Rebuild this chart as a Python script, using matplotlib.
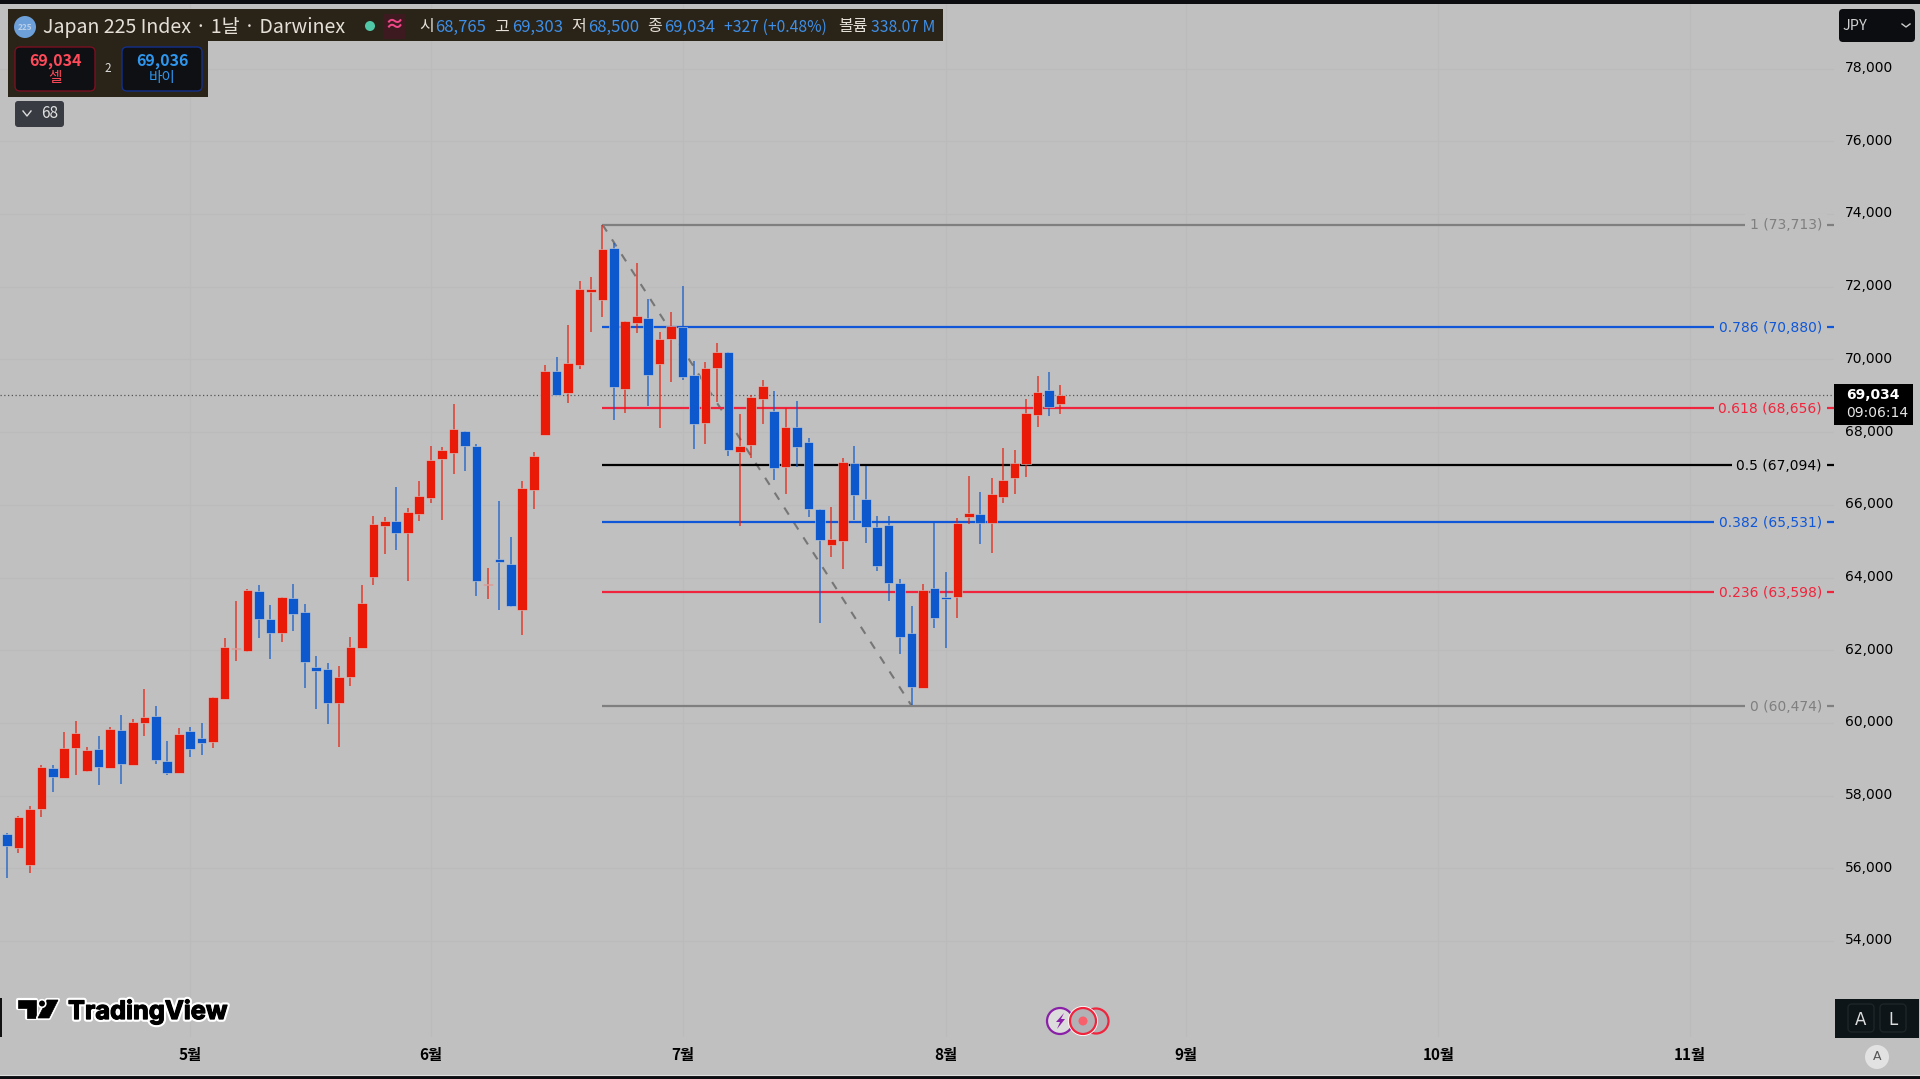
import matplotlib
matplotlib.use('Agg')
import matplotlib.pyplot as plt
import matplotlib.patheffects as pe
from matplotlib.patches import Rectangle, FancyBboxPatch, Circle, Polygon
from matplotlib.transforms import ScaledTranslation

kr = ['Noto Sans CJK KR', 'DejaVu Sans']
plt.rcParams['font.family'] = ['DejaVu Sans', 'Noto Sans CJK KR']

# daily candles
opens = [56945,56569,56083,57633,58761,58486,59311,58669,59283,58770,59806,58853,60000,60191,58962,58614,
         59778,59586,59476,60659,62044,61980,63630,62860,62484,63447,63043,61548,61494,60558,61274,62071,
         64025,65428,65547,65217,65739,66189,67271,67418,68023,67629,63805,64511,64373,63108,66418,67923,
         69683,69087,69848,71865,71636,73076,69188,71003,71150,69866,70572,70884,69582,68261,69775,70206,
         67455,67647,68913,68582,67042,68151,67720,65895,64905,64997,67161,66152,65382,65455,63841,62466,
         60971,63722,63465,63456,65675,65749,65501,66207,66730,67115,68481,69160,68765]
closes = [56615,57404,57642,58779,58522,59320,59724,59265,58798,59825,58862,60026,60155,58990,58614,59705,
          59293,59448,60714,62090,62071,63667,62860,62465,63465,63007,61668,61438,60558,61255,62090,63300,
          65474,65547,65235,65794,66253,67234,67500,68096,67619,63905,63823,64419,63227,66464,67335,69692,
          69032,69903,71930,71948,73030,69243,71058,71205,69573,70554,70921,69527,68234,69756,70206,67510,
          67629,68968,69270,67005,68151,67592,65877,65042,65061,67170,66271,65391,64327,63860,62374,60980,
          63667,62878,63410,65501,65776,65510,66299,66684,67152,68527,69105,68701,69034]
highs = [56982,57440,57716,58843,58843,59751,60054,59339,59650,59889,60219,60100,60943,60476,59504,59852,
         59898,60008,60714,62328,63355,63685,63795,63245,63465,63823,63272,61842,61640,61567,62365,63795,
         65694,65666,66501,65904,66647,67619,67592,68784,68023,67665,64254,66106,65107,66656,67463,69848,
         70077,70948,72159,72269,73713,73195,71058,72663,71673,70765,71306,72021,69958,69940,70444,70206,
         68491,69023,69435,69133,68656,68858,67848,65895,65950,67280,67619,67069,65694,65694,63951,63227,
         63823,65492,64144,65629,66785,66354,66730,67573,67509,68912,69545,69646,69303]
lows = [55725,56432,55881,57422,58110,58486,58568,58651,58293,58770,58321,58853,59650,58871,58577,58614,
        59073,59118,59302,60659,61695,61961,62328,61769,62236,62521,60971,60393,59962,59348,61017,62071,
        63805,64648,64749,63896,65547,66060,65593,66858,66941,63502,63419,63117,63199,62411,65895,67923,
        69032,68794,69738,70756,71159,68335,68537,70719,68729,68106,69380,69444,67528,67675,68839,67345,
        65405,67280,68216,66684,66299,67051,65675,62741,64566,64245,65583,64960,64190,63355,61888,60494,
        60971,62622,62071,62888,65483,64923,64676,66051,66290,66757,68133,68454,68500]

month_pos = [16, 37, 59, 82, 103, 125, 147]
month_labels = ['5월', '6월', '7월', '8월', '9월', '10월', '11월']
price_ticks = list(range(54000, 80000, 2000))

fib_levels = ['1', '0.786', '0.618', '0.5', '0.382', '0.236', '0']
fib_prices = [73713, 70880, 68656, 67094, 65531, 63598, 60474]
fib_colors = ['#7f7f7f', '#0f57d8', '#f0243c', '#000000', '#0f57d8', '#f0243c', '#7f7f7f']

last_price = 69034
bg = '#c0c0c0'
up = '#ea1a08'
down = '#0c58cc'

W, H = 1920, 1079
fig = plt.figure(figsize=(19.2, 10.79), dpi=100, facecolor=bg)
ax = fig.add_axes([0, (H - 1037) / H, 1834 / W, (1037 - 4) / H], facecolor=bg)
x_max = 159.56
ax.set_xlim(-0.61, x_max)
ax.set_ylim(51361, 79779)
for s in ax.spines.values():
    s.set_visible(False)

ax.set_xticks(month_pos)
ax.set_xticklabels(month_labels, family=kr, fontsize=11, color='#000000', fontweight='bold')
ax.yaxis.tick_right()
ax.set_yticks(price_ticks)
ax.set_yticklabels([f'{p:,}' for p in price_ticks], fontsize=10, color='#000000')
ax.tick_params(axis='x', length=0, pad=7)
ax.tick_params(axis='y', length=0, pad=8)
ax.grid(True, color='#bbbbbb', linewidth=0.8)
ax.set_axisbelow(True)
# price labels sit slightly above their grid lines
up_shift = ScaledTranslation(0, 1.5 / 72, fig.dpi_scale_trans)
for t in ax.get_yticklabels():
    t.set_transform(t.get_transform() + up_shift)

# fib retracement
n_start = 52
ax.plot([n_start, 79], [fib_prices[0], fib_prices[-1]], color='#767676', lw=1.5,
        dashes=(4, 4.5), zorder=2)
down_shift = ScaledTranslation(0, -0.7 / 72, fig.dpi_scale_trans)
for lev, p, c in zip(fib_levels, fib_prices, fib_colors):
    ax.plot([n_start, x_max], [p, p], color=c, lw=1.6, zorder=2, solid_capstyle='butt')
    ax.text(1822 / 1834, p, f'{lev} ({p:,})', color=c, fontsize=10, ha='right', va='center',
            transform=ax.get_yaxis_transform() + down_shift, zorder=3,
            bbox=dict(facecolor=bg, edgecolor='none', pad=3.5))

ax.axhline(last_price, color='#555555', lw=0.9, ls=(0, (1, 2)), zorder=2)

# candles
for i in range(len(opens)):
    col = up if closes[i] >= opens[i] else down
    ax.vlines(i, lows[i], highs[i], color=col, lw=1.1, alpha=0.8, zorder=4)
    ax.bar(i, abs(closes[i] - opens[i]), bottom=min(opens[i], closes[i]), width=0.84, color=col,
           edgecolor='#d2d2d2', linewidth=0.4, zorder=5)

# everything below is the TradingView interface, placed in screen pixels
ui = fig.add_axes([0, 0, 1, 1], facecolor='none')
ui.set_xlim(0, W)
ui.set_ylim(H, 0)
ui.axis('off')


def box(x0, y0, x1, y1, fc, ec='none', r=0):
    if r:
        p = FancyBboxPatch((x0, y0), x1 - x0, y1 - y0, boxstyle=f'round,pad=0,rounding_size={r}',
                           fc=fc, ec=ec, lw=1)
    else:
        p = Rectangle((x0, y0), x1 - x0, y1 - y0, fc=fc, ec=ec, lw=1)
    ui.add_patch(p)


def put(x, y, s, c, size=9.5, ha='left', **kw):
    kw.setdefault('family', kr)
    return ui.text(x, y, s, color=c, fontsize=size, ha=ha, va='center', **kw)


box(0, 0, W, 4, '#0b0d10')
box(0, 1075, W, H, '#0b0d10')
ui.plot([0, W], [1074.5, 1074.5], color='#dedede', lw=0.8)

# header
box(8, 9, 943, 41, '#2a2318')
box(8, 41, 208, 97, '#2a2318')
ui.add_patch(Circle((25, 27), 11, fc='#6d9fd8', ec='none'))
put(25, 27, '225', '#b9cfe8', 6, ha='center', fontweight='bold')
put(43, 27, 'Japan 225 Index · 1날 · Darwinex', '#e4e0d8', 14.1)
ui.add_patch(Circle((370, 26), 5, fc='#50c8a8', ec='none'))
box(383, 14, 405, 39, '#3d1a20')
put(394, 26, '≈', '#f04888', 14, ha='center', fontweight='bold')

label_col = '#e4e0d8'
value_col = '#3d8fe8'
for x, s in [(419, '시'), (494, '고'), (571, '저'), (647, '종'), (838, '볼륨')]:
    put(x, 27, s, label_col, 11.5)
for x, s in [(435, '68,765'), (512, '69,303'), (588, '68,500'), (664, '69,034'), (871, '338.07 M')]:
    put(x, 27, s, value_col, 12 if ',' in s else 11.3)
put(724, 27, '+327 (+0.48%)', value_col, 11.3)

box(15, 47, 95, 91, '#0e1014', '#7a1020', 5)
box(122, 47, 202, 91, '#0e1014', '#12308a', 5)
put(55, 61, '69,034', '#ff4a5a', 11.5, ha='center', fontweight='bold')
put(55, 78, '셀', '#ff4a5a', 10.5, ha='center')
put(162, 61, '69,036', '#2f96ee', 11.5, ha='center', fontweight='bold')
put(162, 78, '바이', '#2f96ee', 10.5, ha='center')
put(108, 68, '2', '#dddddd', 8.5, ha='center')

box(15, 101, 64, 127, '#383c42', r=3)
ui.plot([23, 27, 31], [111, 116, 111], color='#dddddd', lw=1)
put(41, 114, '68', '#e0e0e0', 11)

# right side widgets
box(1839, 9, 1915, 42, '#0b0d10', r=4)
put(1843, 26, 'JPY', '#d0d0d0', 10.5)
ui.plot([1902, 1906, 1910], [24, 27, 24], color='#cccccc', lw=1)

box(1834, 384, 1913, 425, '#000000')
put(1846, 395, '69,034', '#ffffff', 10, fontweight='bold', family=['DejaVu Sans'])
put(1846, 413, '09:06:14', '#e6e6e6', 10, family=['DejaVu Sans'])

box(1835, 999, 1919, 1038, '#0e1518')
box(1848, 1004, 1874, 1032, '#0e1518', '#1e2528', 4)
box(1880, 1004, 1906, 1032, '#0e1518', '#1e2528', 4)
put(1861, 1020, 'A', '#dddddd', 12, ha='center', family=['DejaVu Sans'])
put(1893, 1020, 'L', '#dddddd', 12, ha='center', family=['DejaVu Sans'])
ui.add_patch(Circle((1877, 1057), 12, fc='#e2e2e2', ec='none'))
put(1877, 1057, 'A', '#555555', 9, ha='center', family=['DejaVu Sans'])

# TradingView logo
halo = [pe.withStroke(linewidth=4, foreground='white'), pe.withStroke(linewidth=0.9, foreground='black')]
for pts in ([(18, 1000), (36, 1000), (36, 1018), (27, 1018), (27, 1008), (18, 1008)],
            [(47, 1000), (58, 1000), (49, 1018), (38, 1018)]):
    ui.add_patch(Polygon(pts, fc='#ffffff', ec='#ffffff', lw=3, joinstyle='round'))
    ui.add_patch(Polygon(pts, fc='#000000', ec='#000000', lw=0.5))
ui.add_patch(Circle((42, 1003.5), 3.8, fc='#000000', ec='#ffffff', lw=1.2))
ui.text(68, 1019, 'TradingView', color='#000000', fontsize=18.3, family=['Inter', 'DejaVu Sans'],
        fontweight='bold', va='baseline', path_effects=halo)
box(0, 998, 1.5, 1037, '#111111')

# alert bubbles
ui.add_patch(Circle((1096, 1021), 12.5, fc='#b2b2b6', ec='#f0243c', lw=1.6))
ui.add_patch(Circle((1060, 1021), 13, fc='#dcdcdc', ec='#8a1fa8', lw=1.6))
ui.add_patch(Polygon([(1064, 1013), (1056, 1022), (1060, 1022), (1057, 1029), (1065, 1019), (1061, 1019)],
                     fc='#8a1fa8', ec='none'))
ui.add_patch(Circle((1083, 1021), 15, fc='#ffffff', ec='none'))
ui.add_patch(Circle((1083, 1021), 13, fc='#b2b2b6', ec='#f0243c', lw=1.6))
ui.add_patch(Circle((1083, 1021), 4.5, fc='#f8606c', ec='none'))

fig.savefig('out.png', dpi=100, facecolor=bg)
